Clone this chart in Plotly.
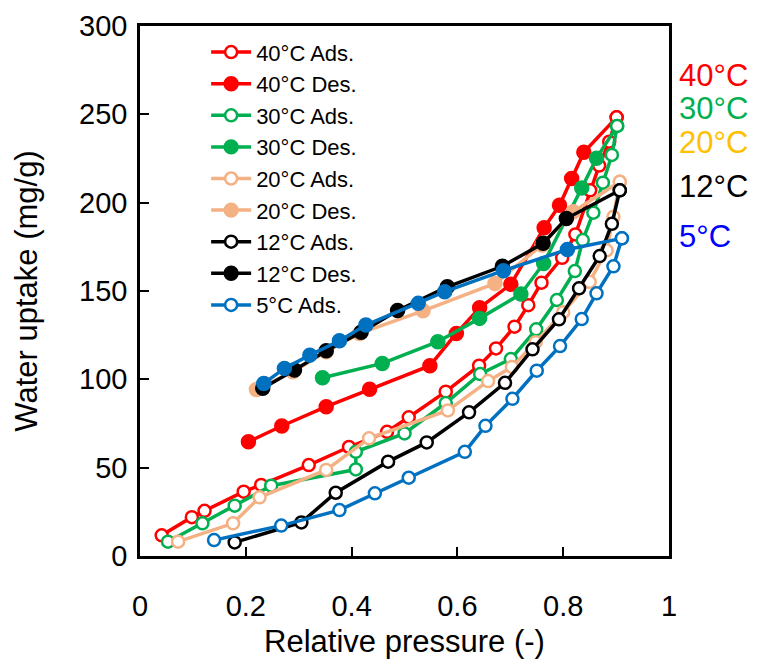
import plotly.graph_objects as go

# ---------------- data ----------------
p40_ads = [0.041, 0.098, 0.122, 0.196, 0.229, 0.319, 0.395, 0.467, 0.508, 0.578, 0.641,
           0.673, 0.708, 0.734, 0.759, 0.798, 0.823, 0.851, 0.868, 0.887, 0.901]
w40_ads = [11.7, 22.0, 25.6, 36.4, 40.2, 51.5, 61.7, 70.3, 78.5, 93.0, 107.7,
           117.5, 129.8, 142.0, 154.7, 168.8, 182.0, 207.0, 221.0, 234.5, 248.3]
p40_des = [0.205, 0.268, 0.352, 0.434, 0.548, 0.598, 0.642, 0.701, 0.764, 0.793, 0.816, 0.839, 0.901]
w40_des = [64.7, 73.6, 84.5, 94.4, 107.7, 126.0, 140.5, 153.8, 185.8, 198.5, 213.7, 228.5, 248.3]

p30_ads = [0.053, 0.118, 0.179, 0.248, 0.408, 0.408, 0.500, 0.578, 0.643, 0.701, 0.749,
           0.788, 0.822, 0.837, 0.857, 0.875, 0.892, 0.902]
w30_ads = [8.1, 18.5, 28.5, 39.8, 49.0, 59.0, 69.4, 86.6, 103.0, 111.5, 128.3,
           144.9, 161.3, 178.8, 194.3, 211.3, 227.0, 243.4]
p30_des = [0.345, 0.458, 0.563, 0.642, 0.720, 0.763, 0.835, 0.863, 0.902]
w30_des = [100.9, 109.0, 121.3, 134.5, 148.3, 165.6, 208.3, 225.2, 243.4]

p20_ads = [0.072, 0.176, 0.226, 0.352, 0.433, 0.582, 0.658, 0.703, 0.748, 0.800, 0.850,
           0.882, 0.895, 0.907]
w20_ads = [8.1, 18.5, 33.2, 48.7, 66.6, 82.4, 99.0, 107.0, 121.0, 138.0, 155.2,
           173.0, 192.0, 211.8]
p20_des = [0.220, 0.289, 0.352, 0.415, 0.535, 0.671, 0.760, 0.819, 0.907]
w20_des = [94.3, 104.3, 115.6, 126.0, 138.8, 154.3, 176.0, 194.9, 211.8]

p12_ads = [0.179, 0.305, 0.370, 0.469, 0.542, 0.622, 0.690, 0.742, 0.792, 0.830, 0.869, 0.892, 0.907]
w12_ads = [7.7, 19.0, 35.8, 53.4, 64.3, 81.3, 98.0, 117.0, 134.0, 151.5, 169.8, 188.0, 207.0]
p12_des = [0.232, 0.292, 0.352, 0.418, 0.487, 0.581, 0.685, 0.762, 0.806, 0.907]
w12_des = [95.0, 105.3, 116.2, 126.6, 139.0, 152.4, 164.0, 177.0, 191.0, 207.0]

p5_ads = [0.140, 0.267, 0.377, 0.444, 0.508, 0.614, 0.653, 0.704, 0.750, 0.794, 0.835, 0.863, 0.895, 0.911]
w5_ads = [9.0, 17.2, 26.0, 35.5, 44.3, 59.0, 73.7, 89.0, 104.9, 118.8, 134.1, 148.7, 164.0, 179.8]
p5_des = [0.234, 0.273, 0.321, 0.377, 0.427, 0.526, 0.576, 0.687, 0.808, 0.911]
w5_des = [97.7, 106.2, 113.7, 121.8, 130.7, 143.0, 149.6, 161.5, 173.5, 179.8]

x_ticks = [0, 0.2, 0.4, 0.6, 0.8, 1.0]
x_ticklabels = ["0", "0.2", "0.4", "0.6", "0.8", "1"]
y_ticks = [0, 50, 100, 150, 200, 250, 300]

temp_labels = ["40°C", "30°C", "20°C", "12°C", "5°C"]
temp_label_colors = ["#FF0000", "#00B050", "#FFC000", "#000000", "#0000FF"]
temp_label_y = [0.9075, 0.845, 0.781, 0.698, 0.602]

RED, GREEN, TAN, BLACK, BLUE = "#FF0000", "#00B050", "#F4B183", "#000000", "#0070C0"
FONT = "Arial, Liberation Sans, sans-serif"

fig = go.Figure()


def ads(x, y, color, name, show=True):
    fig.add_trace(go.Scatter(
        x=x, y=y, mode="lines+markers", name=name, showlegend=show,
        line=dict(color=color, width=3.5),
        marker=dict(symbol="circle", size=12, color="white", opacity=1,
                    line=dict(color=color, width=2.5)),
    ))


def des(x, y, color, name, show=True):
    n = len(x)
    fig.add_trace(go.Scatter(
        x=x, y=y, mode="lines+markers", name=name, showlegend=show,
        line=dict(color=color, width=3.5),
        marker=dict(symbol="circle", size=[13] * (n - 1) + [12], opacity=1,
                    color=[color] * (n - 1) + ["white"],
                    line=dict(color=color, width=2.5)),
    ))


ads(p40_ads, w40_ads, RED, "40°C Ads.")
des(p40_des, w40_des, RED, "40°C Des.")
ads(p30_ads, w30_ads, GREEN, "30°C Ads.")
des(p30_des, w30_des, GREEN, "30°C Des.")
ads(p20_ads, w20_ads, TAN, "20°C Ads.")
des(p20_des, w20_des, TAN, "20°C Des.")
ads(p12_ads, w12_ads, BLACK, "12°C Ads.")
des(p12_des, w12_des, BLACK, "12°C Des.")
ads(p5_ads, w5_ads, BLUE, "5°C Ads.")
des(p5_des, w5_des, BLUE, "5°C Des.", show=False)

for t, c, yy in zip(temp_labels, temp_label_colors, temp_label_y):
    fig.add_annotation(text=t, xref="paper", yref="paper", x=1.015, y=yy,
                       xanchor="left", yanchor="middle", showarrow=False,
                       font=dict(family=FONT, size=31, color=c))

axis_common = dict(showline=True, linecolor="black", linewidth=2.5, mirror=True,
                   ticks="inside", ticklen=9, tickwidth=2, tickcolor="black",
                   showgrid=False, zeroline=False, automargin=False,
                   tickfont=dict(family=FONT, size=29, color="black"))

fig.update_xaxes(range=[0, 1], tickvals=x_ticks, ticktext=x_ticklabels,
                 ticklabelstandoff=22,
                 title=dict(text="Relative pressure (-)", standoff=10,
                            font=dict(family=FONT, size=31, color="black")),
                 **axis_common)
fig.update_yaxes(range=[0, 300], tickvals=y_ticks, ticklabelstandoff=4,
                 title=dict(text="Water uptake (mg/g)", standoff=33,
                            font=dict(family=FONT, size=31, color="black")),
                 **axis_common)

# page body adds an 8 px offset, so the figure is sized to fit the window
fig.update_layout(
    width=750, height=656,
    margin=dict(l=132, r=89, t=18, b=108, autoexpand=False),
    paper_bgcolor="white", plot_bgcolor="white",
    font=dict(family=FONT, color="black"),
    showlegend=True,
    legend=dict(x=0.125, y=0.99, xanchor="left", yanchor="top",
                bgcolor="rgba(0,0,0,0)", borderwidth=0,
                font=dict(family=FONT, size=22, color="black"),
                itemwidth=40, tracegroupgap=0),
)

fig.write_html("out.html")
